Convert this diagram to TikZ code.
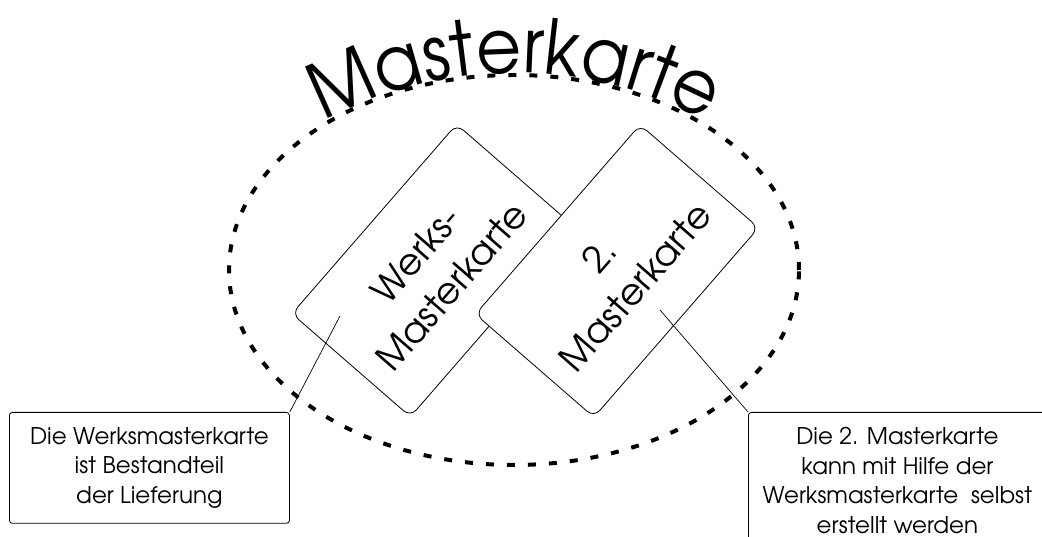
\documentclass[tikz,border=0pt]{standalone}
\usepackage{fontspec}
\setmainfont{texgyreadventor}[Extension=.otf, UprightFont=*-regular, BoldFont=*-bold]
\newfontfamily\titlefont{texgyreadventor}[Extension=.otf, UprightFont=*-regular, FakeStretch=0.91]
\usetikzlibrary{decorations.text}
\begin{document}
\begin{tikzpicture}[x=1pt,y=1pt,
  card/.style={draw, fill=white, line width=0.8pt, rounded corners=9pt,
    minimum width=251pt, minimum height=157pt, rotate=49, align=center,
    inner sep=0pt, font=\fontsize{36.5}{48}\selectfont},
  infobox/.style={draw, fill=white, line width=0.8pt, rounded corners=3pt,
    align=center, inner ysep=15pt, font=\fontsize{23}{29.5}\selectfont},
  leader/.style={line width=0.7pt},
  ring/.style={line width=4pt, dash pattern=on 8pt off 13pt}]
\useasboundingbox (0,0) rectangle (1042,536);
\begin{scope}
\clip (0,0) rectangle (1042,536);
\draw[ring] (514,266) ellipse [x radius=285, y radius=195];
\path[decorate, decoration={text along path, text align=center,
    text={|\titlefont\fontsize{76}{76}\selectfont|Masterkarte}}]
  (515,65) ++(150:398) arc[start angle=150, end angle=30, radius=398];
\node[card] (werks) at (433.5,265.5) {Werks-\\Masterkarte};
\node[card] (zweite) at (617,265) {2.\\Masterkarte};
\node[infobox, minimum width=280pt, anchor=north west] (lbox) at (9,124)
  {Die Werksmasterkarte\\ist Bestandteil\\der Lieferung};
\node[infobox, minimum width=298pt, anchor=north west] (rbox) at (748,124)
  {Die 2. Masterkarte\\kann mit Hilfe der\\Werksmasterkarte\ \ selbst\\erstellt werden};
\coordinate (p1) at (340,220);
\coordinate (p2) at (660,226);
\draw[leader] (lbox.north east) -- (p1);
\draw[leader] (rbox.north west) -- (p2);
\end{scope}
\end{tikzpicture}
\end{document}
